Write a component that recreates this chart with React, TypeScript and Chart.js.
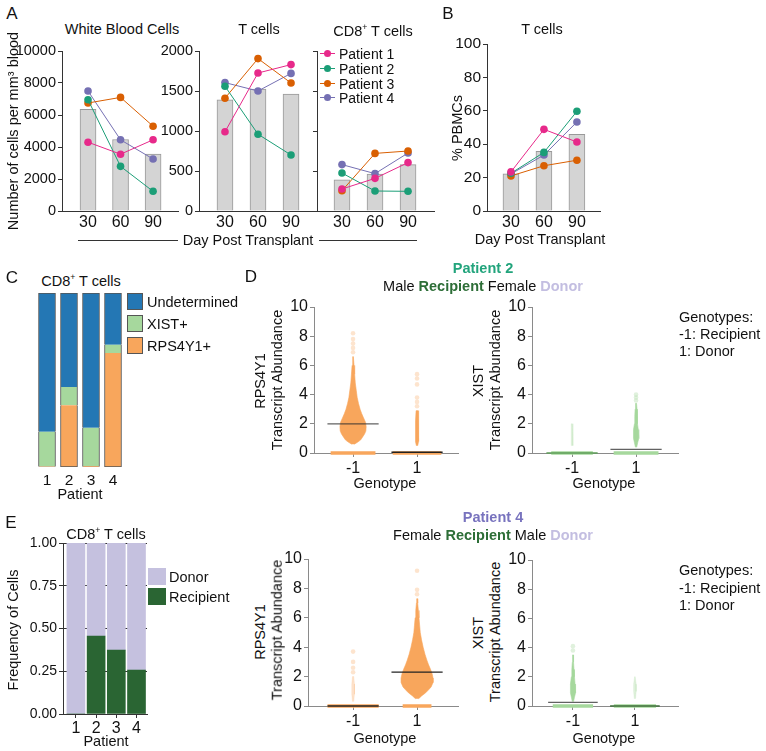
import React, { useEffect, useRef } from 'react';
import { Chart, registerables } from 'chart.js';

Chart.register(...registerables);

const FONT = "'Liberation Sans', Arial, Helvetica, sans-serif";
Chart.defaults.font.family = FONT;
Chart.defaults.color = '#111';

// ===================== DATA =====================
// Panels A / B : day post transplant
const days = [30, 60, 90];
const patientNames = ['Patient 1', 'Patient 2', 'Patient 3', 'Patient 4'];
const patientColors = ['#E7298A', '#1B9E77', '#D95F02', '#7570B3'];

const wbcMean = [6350, 4470, 3560];
const wbcP1 = [4300, 3550, 4450];
const wbcP2 = [6950, 2790, 1230];
const wbcP3 = [6750, 7100, 5300];
const wbcP4 = [7500, 4450, 3250];

const tcellMean = [1390, 1525, 1460];
const tcellP1 = [990, 1725, 1830];
const tcellP2 = [1560, 960, 700];
const tcellP3 = [1410, 1905, 1600];
const tcellP4 = [1605, 1500, 1720];

const cd8Mean = [390, 462, 580];
const cd8P1 = [275, 408, 605];
const cd8P2 = [475, 250, 246];
const cd8P3 = [254, 720, 750];
const cd8P4 = [580, 467, 725];

const pbmcMean = [22.2, 35.7, 45.9];
const pbmcP1 = [23.4, 48.9, 41.3];
const pbmcP2 = [22.6, 35.1, 59.7];
const pbmcP3 = [21.0, 27.1, 30.4];
const pbmcP4 = [22.2, 33.5, 53.3];

// Panel C : CD8+ T cell genotype calls (fraction of cells)
const cPatients = ['1', '2', '3', '4'];
const cRps4y1 = [0.003, 0.355, 0.005, 0.655];
const cXist = [0.2, 0.105, 0.22, 0.048];
const cUndetermined = [0.797, 0.54, 0.775, 0.297];

// Panel E : donor / recipient frequency
const ePatients = [1, 2, 3, 4];
const eRecipient = [0, 0.456, 0.374, 0.257];
const eDonor = [1, 0.544, 0.626, 0.743];

// Panel D : transcript abundance distributions (level, half-width profiles)
const genotypes = [-1, 1];
// Patient 2, RPS4Y1
const p2RpsRecY = [0.6, 0.75, 0.9, 1.1, 1.3, 1.5, 1.8, 2.1, 2.4, 2.7, 3.0, 3.4, 3.8, 4.3, 4.8, 5.4, 6.0, 6.6];
const p2RpsRecW = [0.04, 0.15, 0.24, 0.3, 0.36, 0.4, 0.41, 0.39, 0.33, 0.27, 0.22, 0.17, 0.13, 0.1, 0.07, 0.05, 0.03, 0.01];
const p2RpsRecOut = [6.9, 7.2, 7.5, 7.8, 8.2];
const p2RpsDonY = [0.5, 0.8, 1.5, 2.2, 2.9];
const p2RpsDonW = [0.02, 0.05, 0.05, 0.045, 0.03];
const p2RpsDonOut = [3.2, 3.5, 3.8, 4.7, 5.1, 5.4];
const p2RpsZeroBand = [0.7, 0.76];
const p2RpsMedian = [2.0, 0.05];
// Patient 2, XIST
const p2XistRecY = [0.5, 1.0, 1.5, 2.0];
const p2XistRecW = [0.02, 0.03, 0.03, 0.01];
const p2XistDonY = [0.4, 0.7, 1.0, 1.3, 1.6, 2.0, 2.5, 3.0, 3.4];
const p2XistDonW = [0.02, 0.05, 0.08, 0.09, 0.07, 0.05, 0.04, 0.03, 0.015];
const p2XistDonOut = [3.6, 3.8, 4.0];
const p2XistZeroBand = [0.65, 0.7];
const p2XistMedian = [0.0, 0.25];
// Patient 4, RPS4Y1
const p4RpsRecY = [0.3, 0.8, 1.5, 2.0];
const p4RpsRecW = [0.02, 0.04, 0.04, 0.02];
const p4RpsRecOut = [2.3, 2.6, 3.0, 3.7];
const p4RpsDonY = [0.5, 0.7, 0.9, 1.1, 1.3, 1.6, 1.9, 2.2, 2.5, 2.8, 3.1, 3.5, 4.0, 4.5, 5.0, 5.5, 6.0, 6.5, 7.0, 7.3];
const p4RpsDonW = [0.05, 0.15, 0.27, 0.36, 0.44, 0.5, 0.5, 0.47, 0.42, 0.36, 0.31, 0.25, 0.19, 0.14, 0.1, 0.08, 0.06, 0.04, 0.02, 0.01];
const p4RpsDonOut = [7.6, 7.9, 9.2];
const p4RpsZeroBand = [0.8, 0.45];
const p4RpsMedian = [0.0, 2.3];
// Patient 4, XIST
const p4XistRecY = [0.3, 0.6, 0.9, 1.2, 1.5, 2.0, 2.5, 3.0, 3.5];
const p4XistRecW = [0.02, 0.05, 0.08, 0.09, 0.07, 0.05, 0.035, 0.02, 0.01];
const p4XistRecOut = [3.8, 4.1];
const p4XistDonY = [0.5, 1.0, 1.5, 2.0];
const p4XistDonW = [0.02, 0.04, 0.04, 0.01];
const p4XistZeroBand = [0.65, 0.68];
const p4XistMedian = [0.25, 0.0];

// ===================== STYLES =====================
const AX = '#333';
const AXG = '#8a8a8a';
const ORANGE = '#F8A65C';
const ORANGE_F = 'rgba(248,166,92,0.3)';
const GREEN = '#A6D89D';
const GREEN_F = 'rgba(166,216,157,0.35)';
const MED_DARK = '#222';
const MED_GRAY = 'rgba(45,45,45,0.75)';

function yAxis(min: number, max: number, step: number, size: number, ml: number, extra: any = {}) {
  return {
    type: 'linear', min, max,
    ticks: { stepSize: step, font: { size, family: FONT }, color: '#111', padding: 2, callback: (v: any) => String(v), ...(extra.ticks || {}) },
    grid: { display: true, drawOnChartArea: false, drawTicks: true, tickLength: 4, color: extra.color || AX, ...(extra.grid || {}) },
    border: { display: true, color: extra.color || AX, width: 1 },
    afterFit: (s: any) => { s.width = ml; },
  };
}

function xAxis(min: number, max: number, vals: number[], size: number, mb: number, extra: any = {}) {
  const ticks: any = { font: { size, family: FONT }, color: '#111', padding: extra.padding ?? 3, autoSkip: false, maxRotation: 0, callback: (v: any) => String(v) };
  return {
    type: 'linear', min, max, offset: false,
    afterBuildTicks: (s: any) => { s.ticks = vals.map((v) => ({ value: v })); },
    ticks,
    grid: { display: !!extra.tickMarks, drawOnChartArea: false, drawTicks: !!extra.tickMarks, tickLength: 4, color: extra.color || AX, offset: false },
    border: { display: true, color: extra.color || AX, width: 1 },
    afterFit: (s: any) => { s.height = mb; },
  };
}

function trendConfig(mean: number[], series: number[][], xr: number[], yMax: number, yStep: number, ml: number, ySize: number, hideY = false) {
  return {
    type: 'bar',
    data: {
      datasets: [
        {
          type: 'bar', data: days.map((d, i) => ({ x: d, y: mean[i] })),
          backgroundColor: '#D4D4D4', borderColor: '#999', borderWidth: 1, barThickness: 16, order: 2,
        },
        ...series.map((s, k) => ({
          type: 'line', label: patientNames[k], data: days.map((d, i) => ({ x: d, y: s[i] })),
          borderColor: patientColors[k], backgroundColor: patientColors[k], borderWidth: 1,
          pointRadius: 3.8, pointBorderWidth: 0, pointHoverRadius: 0, order: 1, clip: false,
        })),
      ],
    },
    options: {
      scales: {
        x: xAxis(xr[0], xr[1], days, 16, 24, { padding: 2 }),
        y: yAxis(0, yMax, yStep, ySize, ml, hideY ? { ticks: { callback: () => '' } } : {}),
      },
    },
  };
}

const poly = (cx: number, ys: number[], ws: number[]) =>
  ys.map((y, i) => ({ x: cx - ws[i], y })).concat(ys.map((y, i) => ({ x: cx + ws[i], y })).reverse());

type Vio = {
  cx: number; ys: number[]; ws: number[]; color: string; out: number[]; outColor: string;
  band: number; bandColor: string; med: number; medColor: string;
};

function violinConfig(xr: number[], vios: Vio[]) {
  const ds: any[] = [];
  vios.forEach((v) => {
    ds.push({ data: [{ x: v.cx - v.band, y: 0 }, { x: v.cx + v.band, y: 0 }], borderColor: v.bandColor, borderWidth: 3.5, pointRadius: 0, fill: false, clip: false, order: 3, borderCapStyle: 'butt' });
    if (v.ys.length) ds.push({ data: poly(v.cx, v.ys, v.ws), fill: 'shape', backgroundColor: v.color, borderColor: v.color, borderWidth: 0.6, pointRadius: 0, order: 2 });
    if (v.out.length) ds.push({ data: v.out.map((y) => ({ x: v.cx, y })), showLine: false, pointRadius: 2.3, pointBorderWidth: 0, pointBackgroundColor: v.outColor, order: 1 });
    ds.push({ data: [{ x: v.cx - 0.8, y: v.med }, { x: v.cx + 0.8, y: v.med }], borderColor: v.medColor, borderWidth: 1.3, pointRadius: 0, fill: false, clip: false, order: 0 });
  });
  return {
    type: 'line',
    data: { datasets: ds },
    options: {
      indexAxis: 'y',
      scales: {
        x: xAxis(xr[0], xr[1], genotypes, 16, 22, { tickMarks: true, padding: 2, color: AXG }),
        y: yAxis(0, 10, 2, 16, 28, { color: AXG }),
      },
    },
  };
}

// ===================== COMPONENTS =====================
type M = { l: number; t: number; r: number; b: number };

function ChartBox({ area, m, make, padLeft = false }: { area: number[]; m: M; make: () => any; padLeft?: boolean }) {
  const ref = useRef<HTMLCanvasElement | null>(null);
  const [L, T, R, B] = area;
  const left = L - m.l, top = T - m.t;
  const w = R - L + m.l + m.r, h = B - T + m.t + m.b;
  useEffect(() => {
    const cfg = make();
    cfg.options = {
      ...cfg.options,
      responsive: false, maintainAspectRatio: false, animation: false, devicePixelRatio: 1, events: [],
      layout: { padding: { left: padLeft ? m.l : 0, top: m.t, right: m.r, bottom: 0 } },
      plugins: { legend: { display: false }, tooltip: { enabled: false } },
    };
    const chart = new Chart(ref.current as HTMLCanvasElement, cfg);
    return () => chart.destroy();
  }, []);
  return <canvas ref={ref} width={w} height={h} style={{ position: 'absolute', left, top, width: w, height: h }} />;
}

function Txt({ x, y, children, size = 14.5, rot = false, align = 'center', weight = 400, color = '#111' }: any) {
  const tx = align === 'center' ? '-50%' : align === 'left' ? '0' : '-100%';
  return (
    <div style={{
      position: 'absolute', left: x, top: y, transform: `translate(${tx},-50%)${rot ? ' rotate(-90deg)' : ''}`,
      fontSize: size, fontWeight: weight, color, whiteSpace: 'nowrap', lineHeight: 1, fontFamily: FONT,
    }}>{children}</div>
  );
}

const Sup = () => <sup style={{ fontSize: '0.6em', verticalAlign: 'super', lineHeight: 0 }}>+</sup>;

function HLine({ x1, x2, y }: { x1: number; x2: number; y: number }) {
  return <div style={{ position: 'absolute', left: x1, top: y, width: x2 - x1, height: 1, background: '#333' }} />;
}

export default function App() {
  const p2Rps: Vio[] = [
    { cx: genotypes[0], ys: p2RpsRecY, ws: p2RpsRecW, color: ORANGE, out: p2RpsRecOut, outColor: ORANGE_F, band: p2RpsZeroBand[0], bandColor: ORANGE, med: p2RpsMedian[0], medColor: MED_GRAY },
    { cx: genotypes[1], ys: p2RpsDonY, ws: p2RpsDonW, color: ORANGE, out: p2RpsDonOut, outColor: ORANGE_F, band: p2RpsZeroBand[1], bandColor: ORANGE, med: p2RpsMedian[1], medColor: MED_DARK },
  ];
  const p2Xist: Vio[] = [
    { cx: genotypes[0], ys: p2XistRecY, ws: p2XistRecW, color: GREEN_F, out: [], outColor: GREEN_F, band: p2XistZeroBand[0], bandColor: GREEN, med: p2XistMedian[0], medColor: '#5E9E58' },
    { cx: genotypes[1], ys: p2XistDonY, ws: p2XistDonW, color: GREEN, out: p2XistDonOut, outColor: GREEN_F, band: p2XistZeroBand[1], bandColor: GREEN, med: p2XistMedian[1], medColor: MED_GRAY },
  ];
  const p4Rps: Vio[] = [
    { cx: genotypes[0], ys: p4RpsRecY, ws: p4RpsRecW, color: ORANGE_F, out: p4RpsRecOut, outColor: ORANGE_F, band: p4RpsZeroBand[0], bandColor: ORANGE, med: p4RpsMedian[0], medColor: MED_DARK },
    { cx: genotypes[1], ys: p4RpsDonY, ws: p4RpsDonW, color: ORANGE, out: p4RpsDonOut, outColor: ORANGE_F, band: p4RpsZeroBand[1], bandColor: ORANGE, med: p4RpsMedian[1], medColor: MED_DARK },
  ];
  const p4Xist: Vio[] = [
    { cx: genotypes[0], ys: p4XistRecY, ws: p4XistRecW, color: GREEN, out: p4XistRecOut, outColor: GREEN_F, band: p4XistZeroBand[0], bandColor: GREEN, med: p4XistMedian[0], medColor: MED_GRAY },
    { cx: genotypes[1], ys: p4XistDonY, ws: p4XistDonW, color: GREEN_F, out: [], outColor: GREEN_F, band: p4XistZeroBand[1], bandColor: GREEN, med: p4XistMedian[1], medColor: '#3E6E3A' },
  ];

  const legendRows = [53, 68, 83, 97];

  return (
    <div style={{ position: 'absolute', left: 0, top: 0, width: 766, height: 751, background: '#fff', overflow: 'hidden', fontFamily: FONT }}>
      {/* ---------- Panel A ---------- */}
      <ChartBox area={[62, 51, 178, 211]} m={{ l: 45, t: 12, r: 8, b: 24 }}
        make={() => trendConfig(wbcMean, [wbcP1, wbcP2, wbcP3, wbcP4], [6, 113], 10000, 2000, 45, 14.5)} />
      <ChartBox area={[199, 51, 317, 211]} m={{ l: 40, t: 12, r: 4, b: 24 }}
        make={() => trendConfig(tcellMean, [tcellP1, tcellP2, tcellP3, tcellP4], [6.4, 113.6], 2000, 500, 40, 14.5)} />
      <ChartBox area={[317, 51, 434, 211]} m={{ l: 6, t: 12, r: 8, b: 24 }}
        make={() => trendConfig(cd8Mean, [cd8P1, cd8P2, cd8P3, cd8P4], [7.3, 113.6], 2000, 500, 6, 14.5, true)} />

      <Txt x={12} y={13} size={17}>A</Txt>
      <Txt x={122} y={29}>White Blood Cells</Txt>
      <Txt x={259} y={29}>T cells</Txt>
      <Txt x={373} y={31}>CD8<Sup /> T cells</Txt>
      <Txt x={13} y={131} rot>Number of cells per mm³ blood</Txt>
      <Txt x={248} y={240}>Day Post Transplant</Txt>
      <HLine x1={78} x2={178} y={240} />
      <HLine x1={319} x2={417} y={240} />
      {patientNames.map((n, k) => (
        <React.Fragment key={n}>
          <div style={{ position: 'absolute', left: 320, top: legendRows[k], width: 15, height: 1, background: patientColors[k] }} />
          <div style={{ position: 'absolute', left: 323.5, top: legendRows[k] - 3.5, width: 7.5, height: 7.5, borderRadius: '50%', background: patientColors[k] }} />
          <Txt x={339} y={legendRows[k] + 0.5} size={14} align="left">{n}</Txt>
        </React.Fragment>
      ))}

      {/* ---------- Panel B ---------- */}
      <ChartBox area={[487, 44, 600, 211]} m={{ l: 34, t: 12, r: 10, b: 24 }}
        make={() => trendConfig(pbmcMean, [pbmcP1, pbmcP2, pbmcP3, pbmcP4], [8.2, 111], 100, 20, 34, 15.5)} />
      <Txt x={448} y={13} size={17}>B</Txt>
      <Txt x={542} y={29}>T cells</Txt>
      <Txt x={457} y={128} rot>% PBMCs</Txt>
      <Txt x={540} y={239}>Day Post Transplant</Txt>

      {/* ---------- Panel C ---------- */}
      <ChartBox area={[36, 293, 124, 467]} m={{ l: 4, t: 4, r: 4, b: 22 }} padLeft
        make={() => ({
          type: 'bar',
          data: {
            labels: cPatients,
            datasets: [
              { label: 'RPS4Y1+', data: cRps4y1, backgroundColor: ORANGE, borderColor: '#555', borderWidth: { left: 1, right: 1, bottom: 1, top: 0 }, borderSkipped: false, barThickness: 17 },
              { label: 'XIST+', data: cXist, backgroundColor: GREEN, borderColor: '#555', borderWidth: { left: 1, right: 1, bottom: 0, top: 0 }, borderSkipped: false, barThickness: 17 },
              { label: 'Undetermined', data: cUndetermined, backgroundColor: '#2477B4', borderColor: '#555', borderWidth: { left: 1, right: 1, bottom: 0, top: 1 }, borderSkipped: false, barThickness: 17 },
            ],
          },
          options: {
            scales: {
              x: { stacked: true, grid: { display: false, drawTicks: false }, border: { display: false }, ticks: { font: { size: 15.5, family: FONT }, color: '#111', padding: 4 }, afterFit: (s: any) => { s.height = 22; } },
              y: { stacked: true, display: false, min: 0, max: 1 },
            },
          },
        })} />
      <Txt x={12} y={277} size={17}>C</Txt>
      <Txt x={81} y={281}>CD8<Sup /> T cells</Txt>
      <Txt x={80} y={494}>Patient</Txt>
      {[['#2477B4', 'Undetermined', 293], [GREEN, 'XIST+', 315], [ORANGE, 'RPS4Y1+', 337]].map(([c, l, y]) => (
        <React.Fragment key={l as string}>
          <div style={{ position: 'absolute', left: 127, top: y as number, width: 16, height: 17, background: c as string, border: '1px solid #555', boxSizing: 'border-box' }} />
          <Txt x={147} y={(y as number) + 9} size={14.5} align="left">{l}</Txt>
        </React.Fragment>
      ))}

      {/* ---------- Panel D ---------- */}
      <ChartBox area={[314, 307, 458, 453]} m={{ l: 28, t: 12, r: 8, b: 22 }}
        make={() => violinConfig([-2.22, 2.28], p2Rps)} />
      <ChartBox area={[532, 307, 678, 453]} m={{ l: 28, t: 12, r: 8, b: 22 }}
        make={() => violinConfig([-2.25, 2.31], p2Xist)} />
      <Txt x={251} y={276} size={17}>D</Txt>
      <Txt x={483} y={268} weight={700} color="#22A47C">Patient 2</Txt>
      <Txt x={483} y={286}>Male <b style={{ color: '#2D6E37' }}>Recipient</b> Female <b style={{ color: '#C3BEE1' }}>Donor</b></Txt>
      <Txt x={260} y={381} rot>RPS4Y1</Txt>
      <Txt x={277} y={380} rot>Transcript Abundance</Txt>
      <Txt x={478} y={381} rot>XIST</Txt>
      <Txt x={495} y={380} rot>Transcript Abundance</Txt>
      <Txt x={385} y={483}>Genotype</Txt>
      <Txt x={604} y={483}>Genotype</Txt>
      <Txt x={679} y={317} align="left">Genotypes:</Txt>
      <Txt x={679} y={334} align="left">-1: Recipient</Txt>
      <Txt x={679} y={351} align="left">1: Donor</Txt>

      {/* ---------- Panel E ---------- */}
      <ChartBox area={[63, 543, 147, 714]} m={{ l: 36, t: 12, r: 6, b: 24 }}
        make={() => ({
          type: 'bar',
          data: {
            datasets: [
              { label: 'Recipient', data: ePatients.map((p, i) => ({ x: p, y: eRecipient[i] })), backgroundColor: '#2A6533', barThickness: 18, borderWidth: 0 },
              { label: 'Donor', data: ePatients.map((p, i) => ({ x: p, y: eDonor[i] })), backgroundColor: '#C5C1DF', barThickness: 18, borderWidth: 0 },
            ],
          },
          options: {
            scales: {
              x: { ...xAxis(0.36, 4.52, ePatients, 16, 24, { tickMarks: true, padding: 1 }), stacked: true },
              y: { ...yAxis(0, 1, 0.25, 14, 36, { ticks: { callback: (v: any) => Number(v).toFixed(2) }, grid: { drawOnChartArea: true, color: '#333' } }), stacked: true },
            },
          },
        })} />
      <Txt x={11} y={522} size={17}>E</Txt>
      <Txt x={106} y={534}>CD8<Sup /> T cells</Txt>
      <Txt x={13} y={630} rot>Frequency of Cells</Txt>
      <Txt x={106} y={741}>Patient</Txt>
      {[['#C5C1DF', 'Donor', 568], ['#2A6533', 'Recipient', 588]].map(([c, l, y]) => (
        <React.Fragment key={l as string}>
          <div style={{ position: 'absolute', left: 148, top: y as number, width: 18, height: 17, background: c as string }} />
          <Txt x={169} y={(y as number) + 9} size={14.5} align="left">{l}</Txt>
        </React.Fragment>
      ))}

      {/* Patient 4 distributions */}
      <ChartBox area={[308, 559, 458, 706]} m={{ l: 28, t: 12, r: 8, b: 22 }}
        make={() => violinConfig([-2.41, 2.28], p4Rps)} />
      <ChartBox area={[532, 560, 678, 706]} m={{ l: 28, t: 12, r: 8, b: 22 }}
        make={() => violinConfig([-2.32, 2.39], p4Xist)} />
      <Txt x={493} y={517} weight={700} color="#7873BE">Patient 4</Txt>
      <Txt x={493} y={535}>Female <b style={{ color: '#2D6E37' }}>Recipient</b> Male <b style={{ color: '#C3BEE1' }}>Donor</b></Txt>
      <Txt x={260} y={632} rot>RPS4Y1</Txt>
      <Txt x={277} y={630} rot>Transcript Abundance</Txt>
      <Txt x={478} y={633} rot>XIST</Txt>
      <Txt x={495} y={632} rot>Transcript Abundance</Txt>
      <Txt x={385} y={738}>Genotype</Txt>
      <Txt x={604} y={738}>Genotype</Txt>
      <Txt x={679} y={570} align="left">Genotypes:</Txt>
      <Txt x={679} y={588} align="left">-1: Recipient</Txt>
      <Txt x={679} y={605} align="left">1: Donor</Txt>
    </div>
  );
}
